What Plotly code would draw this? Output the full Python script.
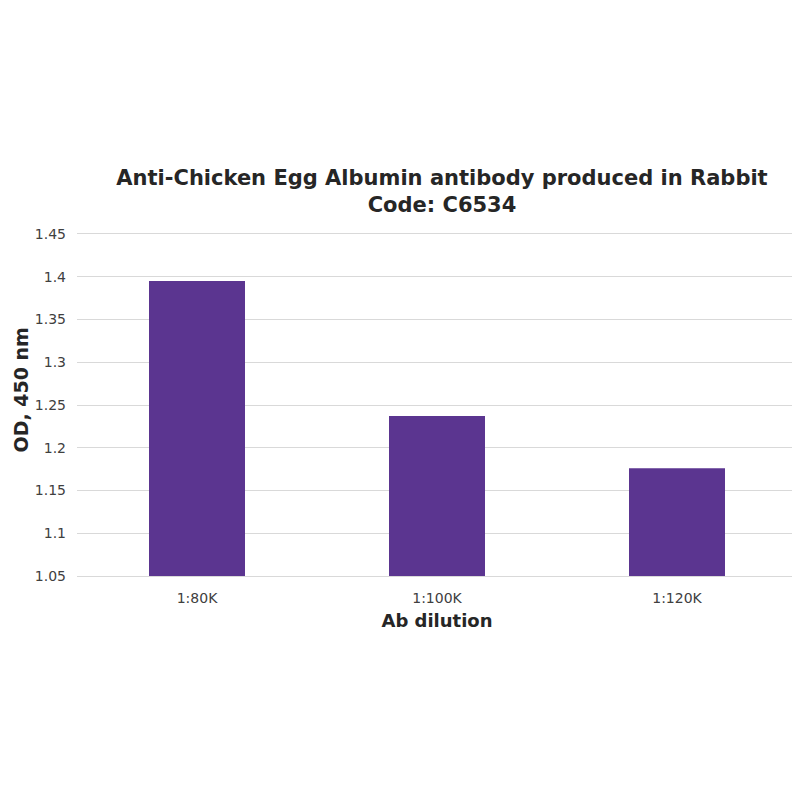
import plotly.graph_objects as go

categories = ["1:80K", "1:100K", "1:120K"]
od_values = [1.395, 1.237, 1.176]
axis_base = 1.05
y_tick_vals = [1.05, 1.1, 1.15, 1.2, 1.25, 1.3, 1.35, 1.4, 1.45]
y_tick_text = ["1.05", "1.1", "1.15", "1.2", "1.25", "1.3", "1.35", "1.4", "1.45"]

fig = go.Figure(go.Bar(x=categories, y=[v - axis_base for v in od_values],
                       base=axis_base, marker_color="#5b3590",
                       marker_line_width=0))

fig.update_layout(
    width=800, height=800,
    paper_bgcolor="white", plot_bgcolor="white",
    margin=dict(l=69, r=11, t=224, b=230, autoexpand=False),
    bargap=0.6,
    showlegend=False,
    title=dict(text="<b>Anti-Chicken Egg Albumin antibody produced in Rabbit<br>Code: C6534</b>",
               x=0.5425, xanchor="center", y=0.779, yanchor="middle",
               font=dict(family="DejaVu Sans", size=21, color="#262626")),
    font=dict(family="DejaVu Sans", color="#404040"),
    annotations=[dict(text="<b>OD, 450 nm</b>", textangle=-90,
                      xref="paper", yref="paper", x=-0.0958, y=0.542,
                      xanchor="left", yanchor="middle", showarrow=False,
                      font=dict(family="DejaVu Sans", size=19, color="#262626"))],
)
fig.update_yaxes(range=[1.0477, 1.4523], tickvals=y_tick_vals, ticktext=y_tick_text,
                 showgrid=True, gridcolor="#d9d9d9", gridwidth=1, zeroline=False,
                 showline=False, ticks="", ticklabelstandoff=10,
                 tickfont=dict(size=14, color="#404040"))
fig.update_xaxes(showgrid=False, showline=False, ticks="", zeroline=False,
                 ticklabelstandoff=10,
                 tickfont=dict(size=14, color="#404040"),
                 title=dict(text="<b>Ab dilution</b>", standoff=9,
                            font=dict(size=18, color="#262626")))

fig.write_html("out.html")
